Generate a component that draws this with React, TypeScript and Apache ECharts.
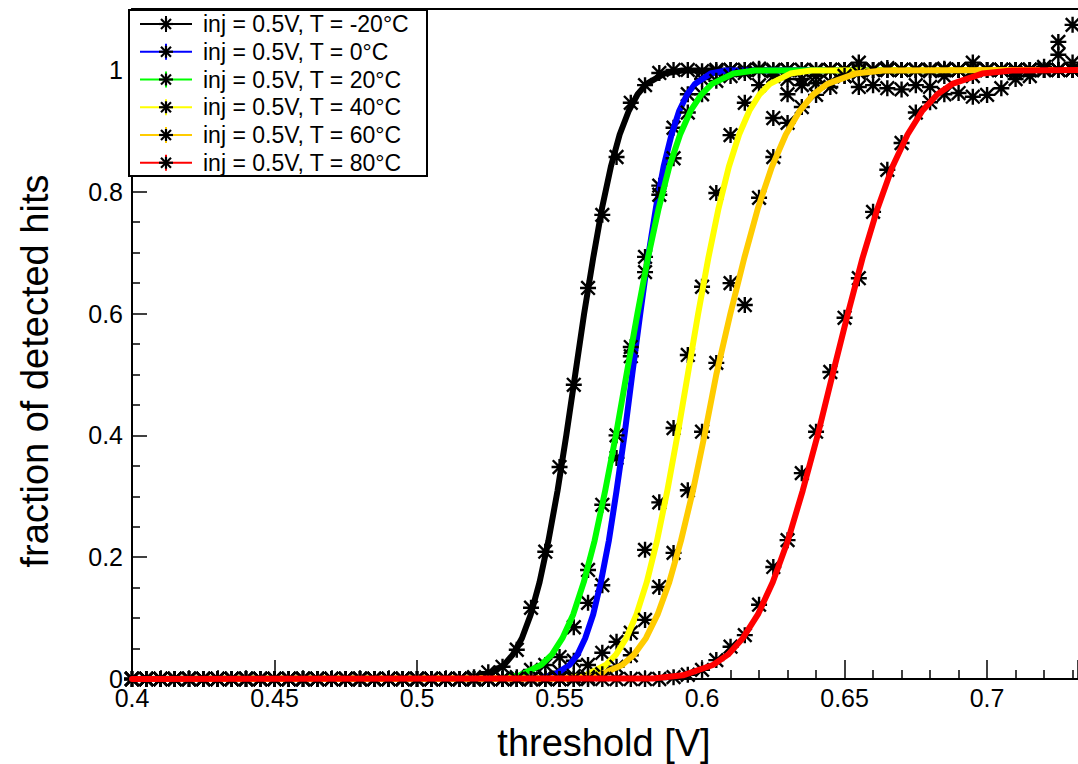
import React, { useEffect, useRef } from "react";
import * as echarts from "echarts";

// threshold scan points [V]
const thresholds = [
  0.400, 0.405, 0.410, 0.415, 0.420, 0.425, 0.430, 0.435, 0.440, 0.445,
  0.450, 0.455, 0.460, 0.465, 0.470, 0.475, 0.480, 0.485, 0.490, 0.495,
  0.500, 0.505, 0.510, 0.515, 0.520, 0.525, 0.530, 0.535, 0.540, 0.545,
  0.550, 0.555, 0.560, 0.565, 0.570, 0.575, 0.580, 0.585, 0.590, 0.595,
  0.600, 0.605, 0.610, 0.615, 0.620, 0.625, 0.630, 0.635, 0.640, 0.645,
  0.650, 0.655, 0.660, 0.665, 0.670, 0.675, 0.680, 0.685, 0.690, 0.695,
  0.700, 0.705, 0.710, 0.715, 0.720, 0.725, 0.730,
];

const temperatures = [-20, 0, 20, 40, 60, 80];
const colors = ["#000000", "#0000ff", "#00ff00", "#ffff00", "#ffcc00", "#ff0000"];

// measured fraction of detected hits
const hitsM20 = [
  0, 0, 0, 0, 0, 0, 0, 0, 0, 0,
  0, 0, 0, 0, 0, 0, 0, 0, 0, 0,
  0, 0, 0, 0, 0.003, 0.011, 0.02, 0.048, 0.117, 0.209,
  0.348, 0.483, 0.642, 0.762, 0.857, 0.946, 0.975, 0.995, 1, 1,
  0.998, 1, 1, 1, 1.002, 1, 1, 1, 0.998, 1,
  1, 1, 1, 1.003, 1, 1, 1, 1, 1, 1,
  1, 1, 1, 1, 1.005, 1.046, 1.074,
];
const hits0 = [
  0, 0, 0, 0, 0, 0, 0, 0, 0, 0,
  0, 0, 0, 0, 0, 0, 0, 0, 0, 0,
  0, 0, 0, 0, 0, 0, 0, 0, 0, 0.003,
  0.012, 0.03, 0.125, 0.154, 0.363, 0.53, 0.693, 0.81, 0.905, 0.96,
  0.985, 0.997, 1, 1, 1, 0.998, 1, 1, 1, 1,
  1, 0.998, 1, 1, 1, 1, 1, 1.002, 1, 1,
  1, 1, 1, 1, 1, 1.025, 1.012,
];
const hits20 = [
  0, 0, 0, 0, 0, 0, 0, 0, 0, 0,
  0, 0, 0, 0, 0, 0, 0, 0, 0, 0,
  0, 0, 0, 0, 0, 0, 0, 0.003, 0.015, 0.023,
  0.036, 0.085, 0.179, 0.286, 0.4, 0.545, 0.668, 0.795, 0.855, 0.93,
  0.96, 0.982, 0.99, 0.995, 1, 0.99, 0.985, 0.975, 0.978, 0.972,
  0.99, 0.972, 0.975, 0.97, 0.968, 0.975, 0.972, 0.99, 1, 0.99,
  1, 1, 0.995, 1, 1, 1, 1,
];
const hits40 = [
  0, 0, 0, 0, 0, 0, 0, 0, 0, 0,
  0, 0, 0, 0, 0, 0, 0, 0, 0, 0,
  0, 0, 0, 0, 0, 0, 0, 0, 0, 0,
  0, 0.005, 0.023, 0.043, 0.061, 0.076, 0.212, 0.29, 0.412, 0.532,
  0.644, 0.798, 0.893, 0.946, 0.975, 0.921, 0.96, 0.985, 0.99, 1,
  1, 1.012, 1, 1, 1, 1, 1, 1, 1, 1.012,
  1, 1, 1, 1, 1, 1, 1,
];
const hits60 = [
  0, 0, 0, 0, 0, 0, 0, 0, 0, 0,
  0, 0, 0, 0, 0, 0, 0, 0, 0, 0,
  0, 0, 0, 0, 0, 0, 0, 0, 0, 0,
  0, 0, 0.003, 0.008, 0.02, 0.039, 0.097, 0.151, 0.207, 0.31,
  0.406, 0.519, 0.65, 0.614, 0.79, 0.857, 0.913, 0.939, 0.959, 0.98,
  0.99, 0.995, 1, 1, 1, 1, 0.998, 1, 1, 1,
  1, 1, 1, 1, 1, 1, 1,
];
const hits80 = [
  0, 0, 0, 0, 0, 0, 0, 0, 0, 0,
  0, 0, 0, 0, 0, 0, 0, 0, 0, 0,
  0, 0, 0, 0, 0, 0, 0, 0, 0, 0,
  0, 0, 0, 0, 0, 0, 0, 0, 0.003, 0.007,
  0.015, 0.031, 0.053, 0.072, 0.122, 0.184, 0.228, 0.338, 0.406, 0.504,
  0.593, 0.658, 0.767, 0.836, 0.88, 0.93, 0.947, 0.96, 0.962, 0.956,
  0.959, 0.97, 0.985, 0.99, 1, 1, 1,
];

// fitted S-curves
const fitM20 = [
  [0.4, 0], [0.518, 0.001], [0.5243, 0.006], [0.5305, 0.023], [0.5336, 0.04], [0.5368, 0.067],
  [0.5399, 0.106], [0.543, 0.159], [0.5461, 0.227], [0.5493, 0.309], [0.5524, 0.401], [0.5555, 0.5],
  [0.5586, 0.599], [0.5618, 0.691], [0.5649, 0.773], [0.568, 0.841], [0.5711, 0.894], [0.5743, 0.933],
  [0.5774, 0.96], [0.5805, 0.977], [0.5868, 0.994], [0.593, 0.999], [0.7319, 1],
];
const fit0 = [
  [0.4, 0], [0.5425, 0.001], [0.548, 0.006], [0.5535, 0.023], [0.5563, 0.04], [0.559, 0.067],
  [0.5618, 0.106], [0.5645, 0.159], [0.5673, 0.227], [0.57, 0.309], [0.5728, 0.401], [0.5755, 0.5],
  [0.5783, 0.599], [0.581, 0.691], [0.5838, 0.773], [0.5865, 0.841], [0.5893, 0.894], [0.592, 0.933],
  [0.5948, 0.96], [0.5975, 0.977], [0.603, 0.994], [0.6085, 0.999], [0.7319, 1],
];
const fit20 = [
  [0.4, 0], [0.5285, 0.001], [0.536, 0.006], [0.5435, 0.023], [0.5473, 0.04], [0.551, 0.067],
  [0.5548, 0.106], [0.5585, 0.159], [0.5623, 0.227], [0.566, 0.309], [0.5698, 0.401], [0.5735, 0.5],
  [0.5773, 0.599], [0.581, 0.691], [0.5848, 0.773], [0.5885, 0.841], [0.5923, 0.894], [0.596, 0.933],
  [0.5998, 0.96], [0.6035, 0.977], [0.611, 0.994], [0.6185, 0.999], [0.7319, 1],
];
const fit40 = [
  [0.4, 0], [0.5518, 0.001], [0.559, 0.006], [0.5662, 0.023], [0.5698, 0.04], [0.5734, 0.067],
  [0.577, 0.106], [0.5806, 0.159], [0.5842, 0.227], [0.5878, 0.309], [0.5914, 0.401], [0.595, 0.5],
  [0.5986, 0.599], [0.6022, 0.691], [0.6058, 0.773], [0.6094, 0.841], [0.613, 0.894], [0.6166, 0.933],
  [0.6202, 0.96], [0.6238, 0.977], [0.631, 0.994], [0.6382, 0.999], [0.7319, 1],
];
const fit60 = [
  [0.4, 0], [0.5555, 0.001], [0.5638, 0.006], [0.572, 0.023], [0.5761, 0.04], [0.5803, 0.067],
  [0.5844, 0.106], [0.5885, 0.159], [0.5926, 0.227], [0.5968, 0.309], [0.6009, 0.401], [0.605, 0.5],
  [0.6099, 0.599], [0.6148, 0.691], [0.6196, 0.773], [0.6245, 0.841], [0.6294, 0.894], [0.6343, 0.933],
  [0.6391, 0.96], [0.644, 0.977], [0.6538, 0.994], [0.6635, 0.999], [0.7319, 1],
];
const fit80 = [
  [0.4, 0], [0.5828, 0.001], [0.5933, 0.006], [0.6038, 0.023], [0.6091, 0.04], [0.6143, 0.067],
  [0.6196, 0.106], [0.6248, 0.159], [0.6301, 0.227], [0.6353, 0.309], [0.6406, 0.401], [0.6458, 0.5],
  [0.6511, 0.599], [0.6563, 0.691], [0.6616, 0.773], [0.6668, 0.841], [0.6721, 0.894], [0.6773, 0.933],
  [0.6826, 0.96], [0.6878, 0.977], [0.6983, 0.994], [0.7088, 0.999], [0.7319, 1],
];

const hits = [hitsM20, hits0, hits20, hits40, hits60, hits80];
const fits = [fitM20, fit0, fit20, fit40, fit60, fit80];

const X_MIN = 0.4;
const X_MAX = 0.7319;
const Y_MIN = 0;
const Y_MAX = 1.1;

const FONT = '"Liberation Sans", Arial, Helvetica, sans-serif';

const STAR =
  "path://M8.5 0 L11.5 0 L11.5 20 L8.5 20 Z " +
  "M0 8.5 L20 8.5 L20 11.5 L0 11.5 Z " +
  "M0.44 2.56 L2.56 0.44 L19.56 17.44 L17.44 19.56 Z " +
  "M17.44 0.44 L19.56 2.56 L2.56 19.56 L0.44 17.44 Z";

function labelOf(t: number) {
  return `inj = 0.5V, T = ${t}°C`;
}

function buildOption() {
  const series: any[] = [];
  temperatures.forEach((t, i) => {
    series.push({
      type: "scatter",
      name: labelOf(t),
      data: thresholds.map((x, k) => [x, hits[i][k]]),
      symbol: STAR,
      symbolSize: 16,
      itemStyle: { color: "#000000", opacity: 1 },
      clip: false,
      silent: true,
      z: 2 + 2 * i,
    });
    series.push({
      type: "line",
      name: labelOf(t) + " fit",
      data: fits[i],
      showSymbol: false,
      symbol: "none",
      smooth: false,
      lineStyle: { color: colors[i], width: 6, join: "round", cap: "round", opacity: 1 },
      clip: false,
      silent: true,
      z: 3 + 2 * i,
    });
  });

  const graphics: any[] = [];
  graphics.push({
    type: "rect",
    z: 100,
    shape: { x: 129, y: 10, width: 298, height: 166 },
    style: { fill: "#ffffff", stroke: "#000000", lineWidth: 2 },
  });
  temperatures.forEach((t, i) => {
    const yc = 24 + 27.75 * i;
    const mx = 166;
    graphics.push({
      type: "line", z: 101,
      shape: { x1: 140, y1: yc, x2: 192, y2: yc },
      style: { stroke: colors[i], lineWidth: 2 },
    });
    graphics.push({
      type: "line", z: 101,
      shape: { x1: mx, y1: yc - 8, x2: mx, y2: yc + 8 },
      style: { stroke: colors[i], lineWidth: 2 },
    });
    const arms = [
      [mx, yc - 6, mx, yc + 6],
      [mx - 7, yc, mx + 7, yc],
      [mx - 5, yc - 5, mx + 5, yc + 5],
      [mx + 5, yc - 5, mx - 5, yc + 5],
    ];
    arms.forEach((a) =>
      graphics.push({
        type: "line", z: 102,
        shape: { x1: a[0], y1: a[1], x2: a[2], y2: a[3] },
        style: { stroke: "#000000", lineWidth: 2.2 },
      })
    );
    graphics.push({
      type: "text", z: 102,
      x: 203, y: yc,
      style: {
        text: labelOf(t),
        fill: "#000000",
        fontSize: 23,
        fontFamily: FONT,
        align: "left",
        verticalAlign: "middle",
      },
    });
  });
  graphics.push({
    type: "text", z: 100,
    x: 604, y: 743,
    style: {
      text: "threshold [V]",
      fill: "#000000",
      fontSize: 38,
      fontFamily: FONT,
      align: "center",
      verticalAlign: "middle",
    },
  });
  graphics.push({
    type: "text", z: 100,
    x: 35, y: 371,
    rotation: Math.PI / 2,
    style: {
      text: "fraction of detected hits",
      fill: "#000000",
      fontSize: 38,
      fontFamily: FONT,
      align: "center",
      verticalAlign: "middle",
    },
  });

  const axisLineStyle = { color: "#000000", width: 2 };
  return {
    animation: false,
    backgroundColor: "#ffffff",
    grid: { left: 132, right: 0, top: 9, bottom: 85, containLabel: false },
    xAxis: [
      {
        type: "value",
        min: X_MIN,
        max: X_MAX,
        interval: 0.05,
        axisLine: { show: true, onZero: false, lineStyle: axisLineStyle },
        axisTick: { show: true, inside: true, length: 19, lineStyle: { color: "#000", width: 1.5 } },
        minorTick: { show: true, splitNumber: 5, length: 9, lineStyle: { color: "#000", width: 1.5 } },
        axisLabel: {
          show: true, color: "#000", fontSize: 25, fontFamily: FONT, margin: 11,
          lineHeight: 16,
          showMaxLabel: false,
        },
        splitLine: { show: false },
        minorSplitLine: { show: false },
      },
      {
        type: "value",
        position: "top",
        min: X_MIN,
        max: X_MAX,
        axisLine: { show: true, onZero: false, lineStyle: axisLineStyle },
        axisTick: { show: false },
        axisLabel: { show: false },
        splitLine: { show: false },
      },
    ],
    yAxis: {
      type: "value",
      min: Y_MIN,
      max: Y_MAX,
      interval: 0.2,
      axisLine: { show: true, onZero: false, lineStyle: axisLineStyle },
      axisTick: { show: true, inside: true, length: 15, lineStyle: { color: "#000", width: 1.5 } },
      minorTick: { show: true, splitNumber: 4, length: 8, lineStyle: { color: "#000", width: 1.5 } },
      axisLabel: {
        show: true, color: "#000", fontSize: 25, fontFamily: FONT, margin: 9,
        lineHeight: 16,
        showMaxLabel: false,
      },
      splitLine: { show: false },
    },
    graphic: graphics,
    series,
  };
}

export default function App() {
  const ref = useRef<HTMLDivElement>(null);
  useEffect(() => {
    if (!ref.current) return;
    const chart = echarts.init(ref.current, undefined, { renderer: "svg" });
    chart.setOption(buildOption() as any);
    return () => chart.dispose();
  }, []);
  return (
    <div
      ref={ref}
      style={{ position: "fixed", left: 0, top: 0, width: 1078, height: 764, background: "#ffffff" }}
    />
  );
}
